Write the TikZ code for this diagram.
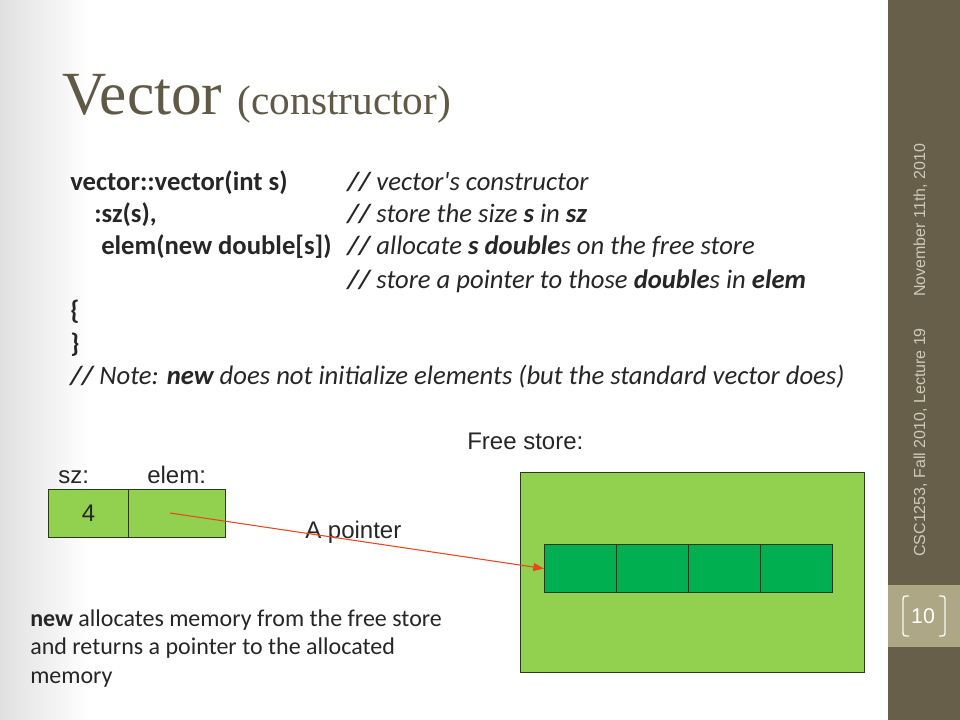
\documentclass[tikz,border=0pt]{standalone}
\usepackage{fontspec}
\setmainfont{Carlito}
\newfontfamily\titlefont{Liberation Serif}
\newfontfamily\arialfont{Liberation Sans}
\usetikzlibrary{arrows.meta}
\definecolor{sidebar}{HTML}{675F4A}
\definecolor{pagebox}{HTML}{ADA785}
\definecolor{sidetext}{HTML}{CFCAB6}
\definecolor{titlecol}{HTML}{5F5946}
\definecolor{txt}{HTML}{262626}
\definecolor{lightgreen}{HTML}{92D050}
\definecolor{darkgreen}{HTML}{00B050}
\definecolor{boxline}{HTML}{2A3A1C}
\definecolor{arrowred}{HTML}{E84820}
\tikzset{
  codeline/.style={anchor=base west, inner sep=0pt, font=\fontsize{20}{24}\selectfont, text=txt},
  armlabel/.style={anchor=base west, inner sep=0pt, font=\arialfont\fontsize{18}{21}\selectfont, text=txt},
  cellbox/.style={draw=boxline, line width=0.9pt, fill=lightgreen, minimum height=48*0.75pt, inner sep=0pt, anchor=north west},
  memcell/.style={draw=boxline, line width=0.9pt, fill=darkgreen, minimum width=72*0.75pt, minimum height=48*0.75pt, inner sep=0pt, anchor=north west},
  noteline/.style={anchor=base west, inner sep=0pt, font=\fontsize{18}{21}\selectfont, text=txt},
  sidelabel/.style={rotate=90, anchor=base west, inner sep=0pt, font=\arialfont\fontsize{12}{14}\selectfont, text=sidetext},
}
\begin{document}
\begin{tikzpicture}[x=0.75pt, y=-0.75pt]
\useasboundingbox (0,0) rectangle (960,720);
% background
\fill[white] (0,0) rectangle (960,720);
\shade[left color=black!12, right color=white] (0,0) rectangle (90,720);
% sidebar
\fill[sidebar] (888,0) rectangle (960,720);
\fill[pagebox] (888,585) rectangle (960,647);
\node[inner sep=0pt, font=\arialfont\fontsize{16}{18}\selectfont, text=white] (pnum) at (923,616) {10};
\draw[white!92!pagebox, line width=1pt] (909,596) .. controls (903,596) .. (903,602) -- (903,630) .. controls (903,636) .. (909,636);
\draw[white!92!pagebox, line width=1pt] (939,596) .. controls (945,596) .. (945,602) -- (945,630) .. controls (945,636) .. (939,636);
\node[sidelabel] (course) at (925,557) {CSC1253, Fall 2010, Lecture 19};
\node[sidelabel] (date) at (925,297) {November 11th, 2010};
% title
\node[anchor=base west, inner sep=0pt, text=titlecol] (title) at (62,115)
  {\titlefont\fontsize{46}{50}\selectfont Vector \fontsize{31}{34}\selectfont(constructor)};
% code
\node[codeline] (c1a) at (70,191) {\bfseries vector::vector(int s)};
\node[codeline] (c1b) at (347,191) {\bfseries\itshape //\mdseries\ vector\textquotesingle s constructor};
\node[codeline] (c2a) at (94,223) {\bfseries :sz(s),};
\node[codeline] (c2b) at (347,223) {\bfseries\itshape //\mdseries\ store the size \bfseries s\mdseries\ in \bfseries sz};
\node[codeline] (c3a) at (101,255) {\bfseries elem(new double[s])};
\node[codeline] (c3b) at (347,255) {\bfseries\itshape //\mdseries\ allocate \bfseries s double\mdseries s on the free store};
\node[codeline] (c4b) at (347,288) {\bfseries\itshape //\mdseries\ store a pointer to those \bfseries double\mdseries s in \bfseries elem};
\node[codeline] (c5) at (70,320) {\bfseries \{};
\node[codeline] (c6) at (70,352) {\bfseries \}};
\node[codeline] (c7) at (70,384) {\bfseries\itshape //\mdseries\ Note: \bfseries new\mdseries\ does not initialize elements (but the standard vector does)};
% labels
\node[armlabel] (free) at (467,449) {Free store:};
\node[armlabel] (szl) at (58,483) {sz:};
\node[armlabel] (eleml) at (147,483) {elem:};
\node[armlabel] (ptrl) at (305,538) {A pointer};
% vector object
\node[cellbox, minimum width=80*0.75pt] (szbox) at (48,489) {};
\node[cellbox, minimum width=97*0.75pt] (elembox) at (128,489) {};
\node[inner sep=0pt, font=\arialfont\fontsize{18}{21}\selectfont, text=txt] (four) at (szbox.center) {4};
\coordinate (ptrstart) at (170,513);
% free store
\node[draw=boxline, line width=0.9pt, fill=lightgreen, minimum width=344*0.75pt, minimum height=200*0.75pt, inner sep=0pt, anchor=north west] (store) at (520,472) {};
\node[memcell] (m1) at (544,544) {};
\node[memcell] (m2) at (616,544) {};
\node[memcell] (m3) at (688,544) {};
\node[memcell] (m4) at (760,544) {};
\draw[arrowred, line width=0.8pt, -{Triangle[length=8pt, width=6pt]}] (ptrstart) -- (m1.west);
% note
\node[noteline] (n1) at (30,626) {\bfseries new\mdseries\ allocates memory from the free store};
\node[noteline] (n2) at (30,654) {and returns a pointer to the allocated};
\node[noteline] (n3) at (30,683) {memory};
\end{tikzpicture}
\end{document}
